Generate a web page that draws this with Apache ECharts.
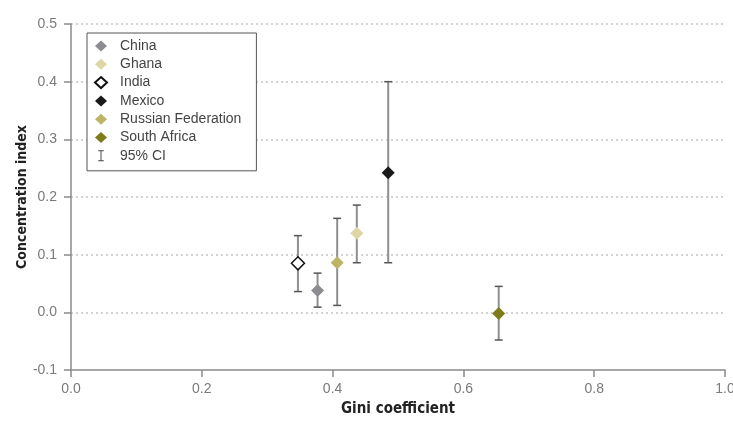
<!DOCTYPE html>
<html>
<head>
<meta charset="utf-8">
<script src="https://cdn.jsdelivr.net/npm/echarts@6/dist/echarts.min.js"></script>
<style>
html,body{margin:0;padding:0;background:#fff;}
#chart{width:733px;height:425px;}
</style>
</head>
<body>
<div id="chart"></div>
<script>
const countries = ['China', 'Ghana', 'India', 'Mexico', 'Russian Federation', 'South Africa'];
const gini = [0.377, 0.437, 0.347, 0.485, 0.407, 0.654];
const concentration = [0.038, 0.137, 0.085, 0.242, 0.086, -0.002];
const ciLow = [0.009, 0.086, 0.036, 0.086, 0.012, -0.048];
const ciHigh = [0.068, 0.186, 0.133, 0.400, 0.163, 0.045];
const ciLabel = '95% CI';
const xAxisTitle = 'Gini coefficient';
const yAxisTitle = 'Concentration index';

const fillColors = ['#8d8d91', '#ddd6a6', '#ffffff', '#1a1a1a', '#bdb565', '#7e7b1b'];
const borderColors = ['#8d8d91', '#ddd6a6', '#111111', '#1a1a1a', '#bdb565', '#7e7b1b'];

const FONT = "'Liberation Sans', Arial, sans-serif";
const TITLE_FONT = "'DejaVu Sans Condensed', 'Liberation Sans', Arial, sans-serif";

const chart = echarts.init(document.getElementById('chart'), null, {renderer: 'canvas'});

const errorData = countries.map((c, i) => [gini[i], ciLow[i], ciHigh[i]]);

const series = [{
  name: ciLabel,
  type: 'custom',
  z: 1,
  data: errorData,
  encode: {x: 0, y: [1, 2]},
  renderItem: function (params, api) {
    const x = api.value(0);
    const lo = api.coord([x, api.value(1)]);
    const hi = api.coord([x, api.value(2)]);
    const half = 4;
    return {
      type: 'group',
      children: [
        {type: 'line', shape: {x1: lo[0], y1: lo[1], x2: hi[0], y2: hi[1]},
         style: {stroke: '#8f8f8f', lineWidth: 2}},
        {type: 'line', shape: {x1: lo[0] - half, y1: lo[1], x2: lo[0] + half, y2: lo[1]},
         style: {stroke: '#555555', lineWidth: 1.5}},
        {type: 'line', shape: {x1: hi[0] - half, y1: hi[1], x2: hi[0] + half, y2: hi[1]},
         style: {stroke: '#555555', lineWidth: 1.5}}
      ]
    };
  }
}];

countries.forEach((c, i) => {
  series.push({
    name: c,
    type: 'scatter',
    z: 3,
    symbol: 'diamond',
    symbolSize: 13,
    itemStyle: {color: fillColors[i], borderColor: borderColors[i], borderWidth: i === 2 ? 1.5 : 0, opacity: 1},
    data: [[gini[i], concentration[i]]]
  });
});

const legendData = countries.map((c, i) => ({name: c, icon: 'diamond'}));
legendData.push({
  name: ciLabel,
  icon: 'path://M0,0H8V1.5H4.7V14.5H8V16H0V14.5H3.3V1.5H0Z',
  itemStyle: {color: '#444444', borderWidth: 0}
});

chart.setOption({
  animation: false,
  backgroundColor: '#ffffff',
  grid: {left: 71, right: 8, top: 24, bottom: 55, containLabel: false, outerBoundsMode: 'none'},
  legend: {
    orient: 'vertical',
    left: 87,
    top: 33,
    padding: [6, 15, 8, 7],
    itemWidth: 12,
    itemHeight: 11,
    itemGap: 4.3,
    borderColor: '#555555',
    borderWidth: 1,
    backgroundColor: '#ffffff',
    selectedMode: false,
    textStyle: {fontFamily: FONT, fontSize: 14, color: '#444444', lineHeight: 14, padding: [0, 0, 0, 8]},
    data: legendData
  },
  xAxis: {
    type: 'value',
    min: 0,
    max: 1,
    interval: 0.2,
    name: xAxisTitle,
    nameLocation: 'middle',
    nameGap: 32,
    nameMoveOverlap: false,
    nameTextStyle: {fontFamily: TITLE_FONT, fontSize: 15, fontWeight: 'bold', color: '#222222'},
    axisLine: {show: true, onZero: false, lineStyle: {color: '#8a8a8a', width: 1.5}},
    axisTick: {show: true, inside: false, length: 7, lineStyle: {color: '#8a8a8a', width: 1.5}},
    axisLabel: {fontFamily: FONT, fontSize: 14, color: '#7a7a7a', margin: 12, formatter: v => v.toFixed(1)},
    splitLine: {show: false}
  },
  yAxis: {
    type: 'value',
    min: -0.1,
    max: 0.5,
    interval: 0.1,
    name: yAxisTitle,
    nameLocation: 'middle',
    nameGap: 42,
    nameMoveOverlap: false,
    nameRotate: 90,
    nameTextStyle: {fontFamily: TITLE_FONT, fontSize: 14, fontWeight: 'bold', color: '#222222'},
    axisLine: {show: true, onZero: false, lineStyle: {color: '#8a8a8a', width: 1.5}},
    axisTick: {show: true, inside: false, length: 7, lineStyle: {color: '#8a8a8a', width: 1.5}},
    axisLabel: {fontFamily: FONT, fontSize: 14, color: '#7a7a7a', margin: 14, formatter: v => v.toFixed(1)},
    splitLine: {show: true, showMinLine: false, lineStyle: {color: '#c4c4c4', type: [2, 3], width: 1.5}}
  },
  series: series
});
</script>
</body>
</html>
